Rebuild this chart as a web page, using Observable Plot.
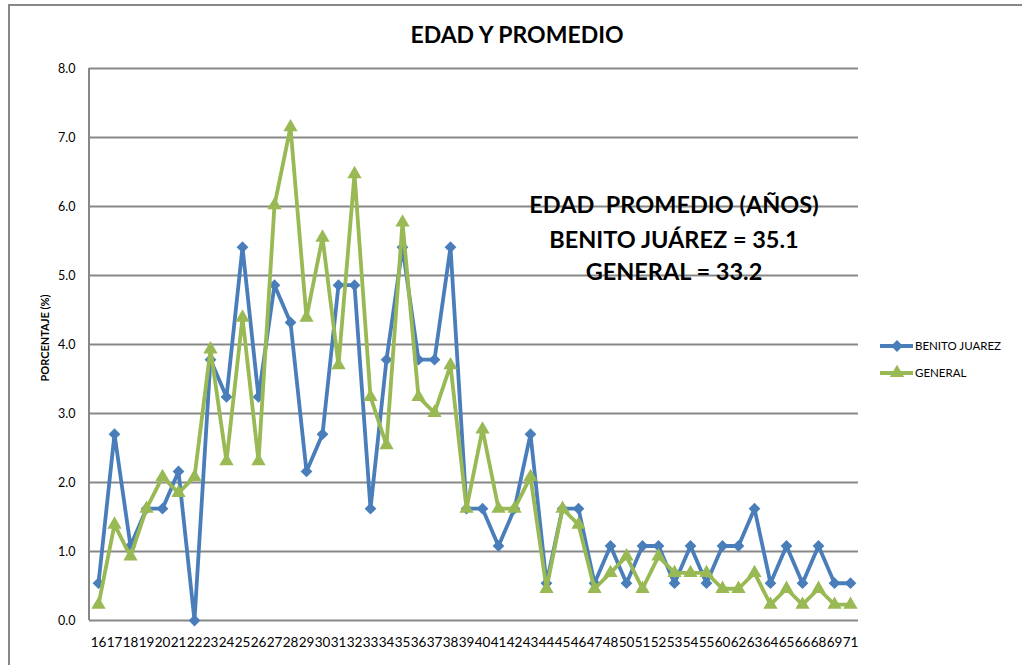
<!DOCTYPE html>
<html>
<head>
<meta charset="utf-8">
<script src="https://cdn.jsdelivr.net/npm/d3@7"></script>
<script src="https://cdn.jsdelivr.net/npm/@observablehq/plot@0.6"></script>
<style>
  html, body { margin: 0; padding: 0; background: #fff; }
  #chart svg { display: block; }
</style>
</head>
<body>
<div id="chart"></div>
<script>
const ages = ["16","17","18","19","20","21","22","23","24","25","26","27","28","29","30","31","32","33","34","35","36","37","38","39","40","41","42","43","44","45","46","47","48","50","51","52","53","54","55","60","62","63","64","65","66","68","69","71"];
const benitoJuarez = [0.54,2.70,1.08,1.62,1.62,2.16,0.00,3.78,3.24,5.41,3.24,4.86,4.32,2.16,2.70,4.86,4.86,1.62,3.78,5.41,3.78,3.78,5.41,1.62,1.62,1.08,1.62,2.70,0.54,1.62,1.62,0.54,1.08,0.54,1.08,1.08,0.54,1.08,0.54,1.08,1.08,1.62,0.54,1.08,0.54,1.08,0.54,0.54];
const general = [0.23,1.39,0.93,1.62,2.08,1.85,2.08,3.93,2.31,4.39,2.31,6.02,7.15,4.39,5.55,3.70,6.47,3.24,2.54,5.77,3.24,3.01,3.70,1.62,2.77,1.62,1.62,2.08,0.46,1.62,1.39,0.46,0.69,0.93,0.46,0.93,0.69,0.69,0.69,0.46,0.46,0.69,0.23,0.46,0.23,0.46,0.23,0.23];
const seriesNames = ["BENITO JUAREZ", "GENERAL"];
const seriesColors = ["#4A7EBB", "#98B954"];
const yTicks = [0,1,2,3,4,5,6,7,8];
const titleText = "EDAD Y PROMEDIO";
const yLabel = "PORCENTAJE (%)";
const noteLines = ["EDAD  PROMEDIO (AÑOS)", "BENITO JUÁREZ = 35.1", "GENERAL = 33.2"];

const rowsB = ages.map((a, i) => ({age: a, value: benitoJuarez[i]}));
const rowsG = ages.map((a, i) => ({age: a, value: general[i]}));

const FONT = "Lato, 'Open Sans', sans-serif";
const W = 1022, H = 665;
const mL = 89, mR = 164, mT = 68, mB = 45;

const chart = Plot.plot({
  width: W, height: H,
  marginLeft: mL, marginRight: mR, marginTop: mT, marginBottom: mB,
  style: {fontFamily: FONT, fontSize: "12px", color: "#000", background: "#fff"},
  x: {type: "point", domain: ages, padding: 0.5, label: null},
  y: {domain: [0, 8], label: null},
  marks: [
    Plot.gridY(yTicks, {stroke: "#878787", strokeOpacity: 1, strokeWidth: 2}),
    Plot.axisY(yTicks, {tickSize: 0, tickPadding: 14, tickFormat: d => d.toFixed(1), fontSize: 12.5, label: null}),
    Plot.axisX({tickSize: 0, tickPadding: 17, fontSize: 13.5, label: null}),
    Plot.lineY(rowsB, {x: "age", y: "value", stroke: seriesColors[0], strokeWidth: 3.8, strokeLinejoin: "round"}),
    Plot.dot(rowsB, {x: "age", y: "value", symbol: "diamond2", r: 5.3, fill: seriesColors[0], stroke: null}),
    Plot.lineY(rowsG, {x: "age", y: "value", stroke: seriesColors[1], strokeWidth: 3.8, strokeLinejoin: "round"}),
    Plot.dot(rowsG, {x: "age", y: "value", symbol: "triangle", r: 5.3, fill: seriesColors[1], stroke: null})
  ]
});
document.getElementById("chart").appendChild(chart);

const svg = d3.select(chart);

// left axis line
svg.append("line").attr("x1", mL).attr("x2", mL).attr("y1", mT).attr("y2", H - mB)
  .attr("stroke", "#878787").attr("stroke-width", 2);
// outer chart border (left + top)
svg.append("path").attr("d", `M9,${H} V5 H${W}`).attr("fill", "none")
  .attr("stroke", "#878787").attr("stroke-width", 2);

// title
svg.append("text").attr("x", 517).attr("y", 35).attr("dy", "0.35em")
  .attr("text-anchor", "middle").attr("font-family", FONT).attr("font-size", 23)
  .attr("font-weight", "bold").attr("fill", "#000").text(titleText);

// annotation
const noteY = [205, 240, 272];
noteLines.forEach((t, i) => {
  svg.append("text").attr("x", 674).attr("y", noteY[i]).attr("dy", "0.35em")
    .attr("text-anchor", "middle").attr("font-family", FONT).attr("font-size", 23.5)
    .attr("font-weight", "bold").attr("fill", "#000").text(t);
});

// y label
svg.append("text").attr("transform", "translate(45,338) rotate(-90)").attr("dy", "0.35em")
  .attr("text-anchor", "middle").attr("font-family", FONT).attr("font-size", 11)
  .attr("font-weight", "bold").attr("fill", "#000").text(yLabel);

// legend
const leg = svg.append("g").attr("font-family", FONT).attr("font-size", 11.5).attr("fill", "#000");
const tri = d3.symbol(d3.symbolTriangle, Math.PI * 5.3 * 5.3)();
const dia = d3.symbol(d3.symbolDiamond2, Math.PI * 5.3 * 5.3)();
[346, 373].forEach((y, i) => {
  leg.append("line").attr("x1", 880).attr("x2", 913).attr("y1", y).attr("y2", y)
    .attr("stroke", seriesColors[i]).attr("stroke-width", 3.8);
  leg.append("path").attr("d", i === 0 ? dia : tri).attr("transform", `translate(897,${y})`).attr("fill", seriesColors[i]);
  leg.append("text").attr("x", 915).attr("y", y).attr("dy", "0.35em").attr("text-anchor", "start").text(seriesNames[i]);
});
</script>
</body>
</html>
